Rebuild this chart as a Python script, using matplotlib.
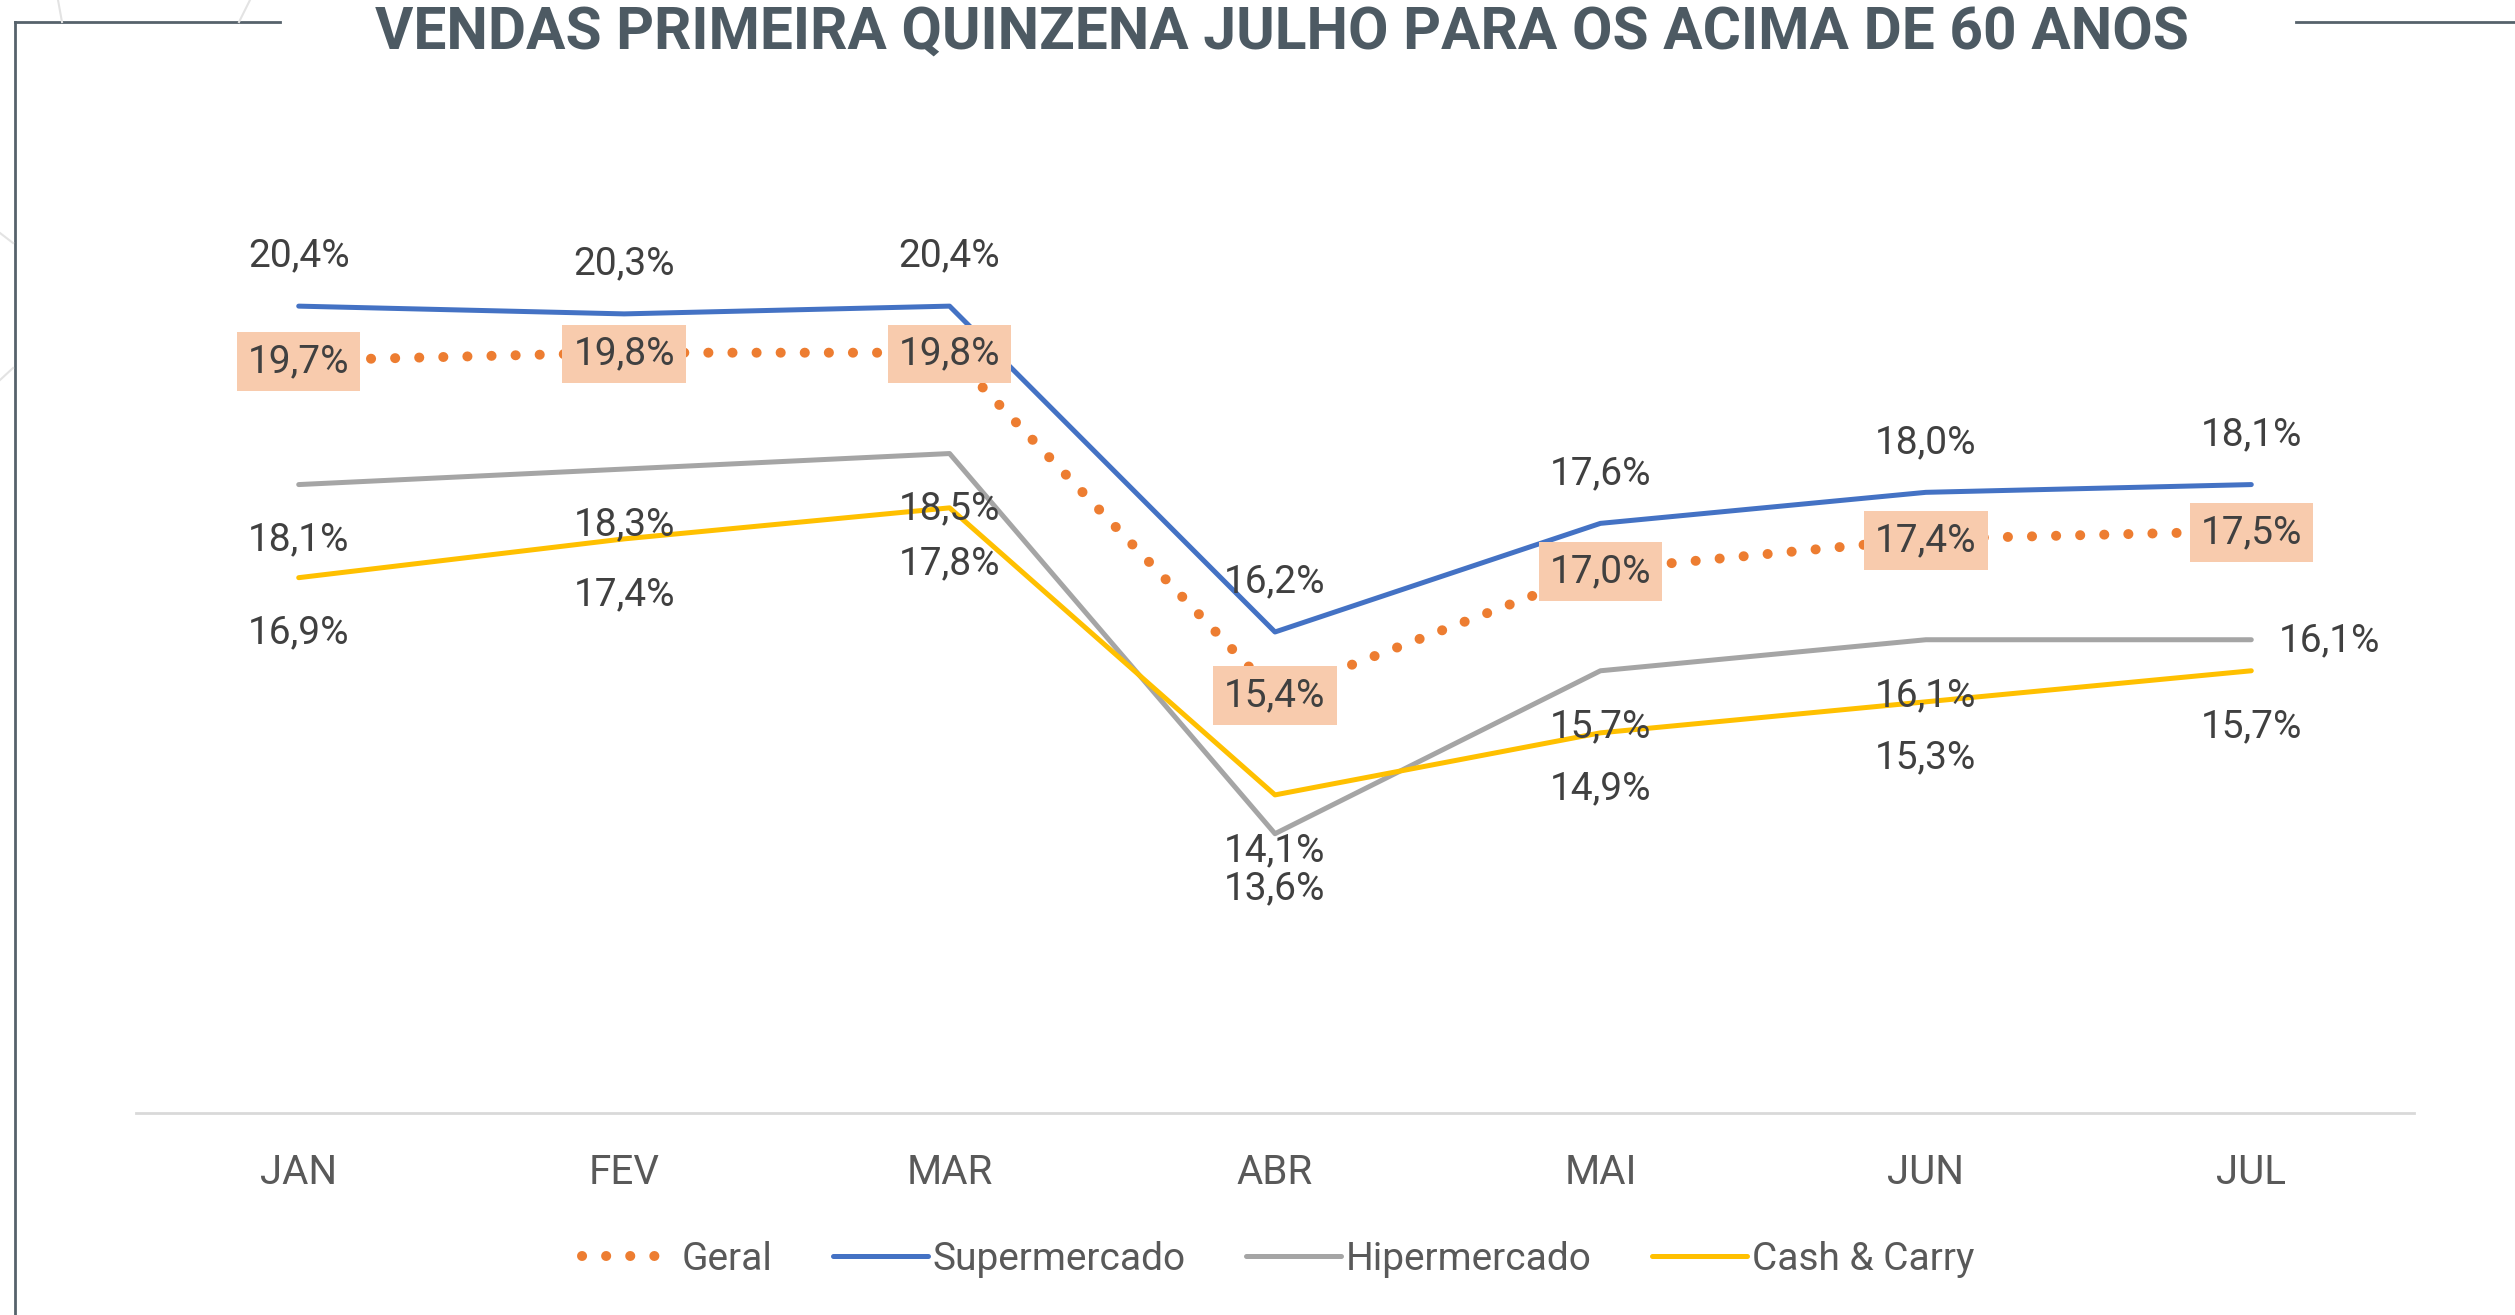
import matplotlib.pyplot as plt
from matplotlib.lines import Line2D

plt.rcParams['font.family'] = ['Roboto', 'DejaVu Sans']

months = ['JAN', 'FEV', 'MAR', 'ABR', 'MAI', 'JUN', 'JUL']
geral = [19.7, 19.8, 19.8, 15.4, 17.0, 17.4, 17.5]
supermercado = [20.4, 20.3, 20.4, 16.2, 17.6, 18.0, 18.1]
hipermercado = [18.1, 18.3, 18.5, 13.6, 15.7, 16.1, 16.1]
cash_carry = [16.9, 17.4, 17.8, 14.1, 14.9, 15.3, 15.7]

c_geral = '#ED7D31'
c_super = '#4472C4'
c_hiper = '#A5A5A5'
c_cash = '#FFC000'
txt = '#404040'

W, H = 2515, 1315
fig = plt.figure(figsize=(W / 100, H / 100), dpi=100)
fig.patch.set_facecolor('white')

# chart frame pieces and faint background lines
frame = '#56626B'
fig.add_artist(Line2D([15 / W, 15 / W], [0, 1 - 22 / H], color=frame, lw=2, transform=fig.transFigure))
fig.add_artist(Line2D([15 / W, 280 / W], [1 - 22 / H, 1 - 22 / H], color=frame, lw=2, transform=fig.transFigure))
fig.add_artist(Line2D([2296 / W, 1], [1 - 22 / H, 1 - 22 / H], color=frame, lw=2, transform=fig.transFigure))
for (x0, y0), (x1, y1) in [((58, 0), (62, 22)), ((250, 0), (239, 22)),
                           ((0, 233), (13, 243)), ((0, 380), (13, 368))]:
    fig.add_artist(Line2D([x0 / W, x1 / W], [1 - y0 / H, 1 - y1 / H], color='#E3E3E3',
                          lw=1.5, transform=fig.transFigure))

fig.text(0.5097, 1 - 49 / H, 'VENDAS PRIMEIRA QUINZENA JULHO PARA OS ACIMA DE 60 ANOS',
         ha='center', va='baseline', fontsize=42.2, fontweight='bold', color='#4D5A63')

ax = fig.add_axes([136 / W, (H - 1113) / H, (2414 - 136) / W, (1113 - 182) / H])
x = list(range(len(months)))

lw = 3.6
ax.plot(x, geral, color=c_geral, lw=7.2, linestyle=(0, (0.01, 2.4)),
        dash_capstyle='round', label='Geral', zorder=3)
ax.plot(x, supermercado, color=c_super, lw=lw, solid_capstyle='round', label='Supermercado', zorder=2)
ax.plot(x, hipermercado, color=c_hiper, lw=lw, solid_capstyle='round', label='Hipermercado', zorder=2)
ax.plot(x, cash_carry, color=c_cash, lw=lw, solid_capstyle='round', label='Cash & Carry', zorder=2)

def fmt(v):
    return f'{v:.1f}%'.replace('.', ',')

fs = 28
for i in x:
    ax.annotate(fmt(supermercado[i]), (i, supermercado[i]), xytext=(0, 36), textcoords='offset points',
                ha='center', va='center', fontsize=fs, color=txt)
    ax.annotate(fmt(cash_carry[i]), (i, cash_carry[i]), xytext=(0, -40), textcoords='offset points',
                ha='center', va='center', fontsize=fs, color=txt)
    if i == len(x) - 1:
        ax.annotate(fmt(hipermercado[i]), (i, hipermercado[i]), xytext=(20, -1), textcoords='offset points',
                    ha='left', va='center', fontsize=fs, color=txt)
    else:
        ax.annotate(fmt(hipermercado[i]), (i, hipermercado[i]), xytext=(0, -40), textcoords='offset points',
                    ha='center', va='center', fontsize=fs, color=txt)
    ax.annotate(fmt(geral[i]), (i, geral[i]), xytext=(0, -1), textcoords='offset points',
                ha='center', va='center', fontsize=fs, color=txt, zorder=5,
                bbox=dict(boxstyle='square,pad=0.28', facecolor='#F8CBAD', edgecolor='none'))

ax.set_xlim(-0.5, len(months) - 0.5)
ax.set_ylim(10, 22)
ax.set_xticks(x)
ax.set_xticklabels(months, fontsize=29, color='#595959')
ax.set_yticks([])
ax.tick_params(axis='x', length=0, pad=29)
for s in ['top', 'right', 'left']:
    ax.spines[s].set_visible(False)
ax.spines['bottom'].set_color('#D9D9D9')
ax.spines['bottom'].set_linewidth(2)

ax.legend(loc='center', bbox_to_anchor=(1278 / W, 1 - 1259 / H), bbox_transform=fig.transFigure,
          ncol=4, frameon=False, fontsize=28, labelcolor='#595959', handlelength=2.45,
          handletextpad=0.12, columnspacing=1.55)

fig.savefig('out.png', dpi=100, facecolor='white')
